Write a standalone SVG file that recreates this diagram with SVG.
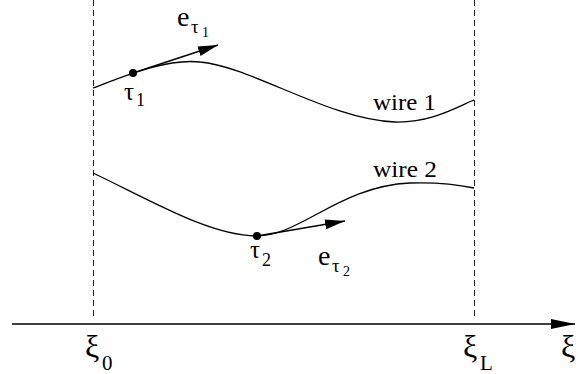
<svg xmlns="http://www.w3.org/2000/svg" width="582" height="374" viewBox="0 0 582 374">
<style>
.t{font-family:"Liberation Serif","Times New Roman",serif;fill:#000}
.w{fill:none;stroke:#000;stroke-width:1.3}
.d{stroke:#222;stroke-width:1;stroke-dasharray:6,4}
.a{stroke:#000;stroke-width:1.4;fill:none}
</style>
<defs>
<marker id="ah" viewBox="0 0 20 10" refX="20" refY="5" markerWidth="20" markerHeight="10" markerUnits="userSpaceOnUse" orient="auto">
<path d="M0,0 L20,5 L0,10 Z" fill="#000"/>
</marker>
<marker id="ax" viewBox="0 0 24 10" refX="24" refY="5" markerWidth="24" markerHeight="10" markerUnits="userSpaceOnUse" orient="auto">
<path d="M0,0 L24,5 L0,10 Z" fill="#000"/>
</marker>
</defs>
<g id="guides">
<line class="d" x1="93.5" y1="0" x2="93.5" y2="319"/>
<line class="d" x1="474.5" y1="0" x2="474.5" y2="319"/>
</g>
<g id="axis">
<line class="a" x1="12" y1="324" x2="575" y2="324" marker-end="url(#ax)"/>
<text class="t" x="85" y="357" font-size="32">ξ</text>
<text class="t" x="102" y="370" font-size="21">0</text>
<text class="t" x="463" y="357" font-size="32">ξ</text>
<text class="t" x="480" y="370" font-size="21">L</text>
<text class="t" x="561" y="357" font-size="32">ξ</text>
</g>
<g id="wire1">
<path class="w" d="M93,88 C120,78 165,58 200,62 C250,66 330,120 395,122 C430,123 455,108 474,100"/>
<text class="t" x="373" y="110" font-size="24" textLength="63" lengthAdjust="spacingAndGlyphs">wire 1</text>
</g>
<g id="wire2">
<path class="w" d="M93,173 C150,200 210,236 257,236 C300,236 340,186 410,183 C440,182 460,185 474,188"/>
<text class="t" x="373" y="177" font-size="24" textLength="64" lengthAdjust="spacingAndGlyphs">wire 2</text>
</g>
<g id="tau1">
<circle cx="133" cy="73" r="4" fill="#000"/>
<text class="t" x="124" y="100" font-size="25">τ</text>
<text class="t" x="136" y="106" font-size="18">1</text>
</g>
<g id="tau2">
<circle cx="257" cy="236" r="4" fill="#000"/>
<text class="t" x="250" y="258" font-size="25">τ</text>
<text class="t" x="262" y="266" font-size="18">2</text>
</g>
<g id="connectors">
<line class="a" x1="133" y1="73" x2="218" y2="45" marker-end="url(#ah)"/>
<line class="a" x1="257" y1="236" x2="345" y2="221" marker-end="url(#ah)"/>
</g>
<g id="e1">
<text class="t" x="177" y="26" font-size="28">e</text>
<text class="t" x="191" y="33" font-size="19">τ</text>
<text class="t" x="202" y="37" font-size="14">1</text>
</g>
<g id="e2">
<text class="t" x="318" y="265" font-size="28">e</text>
<text class="t" x="332" y="272" font-size="19">τ</text>
<text class="t" x="343" y="276" font-size="14">2</text>
</g>
</svg>
